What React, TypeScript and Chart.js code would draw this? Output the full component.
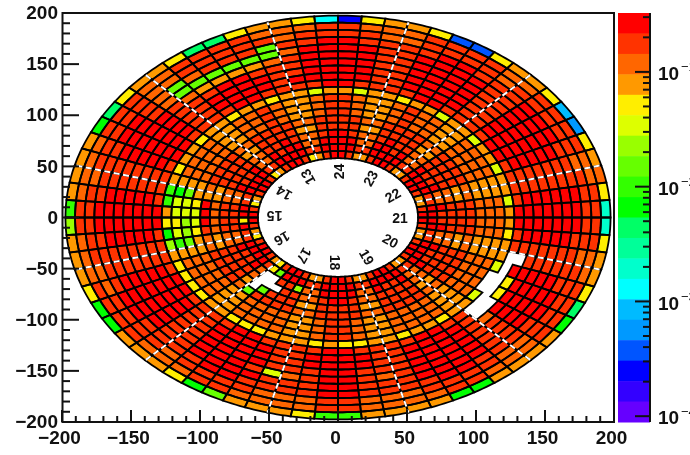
import React, { useEffect, useRef } from "react";
import { Chart, registerables } from "chart.js";

Chart.register(...registerables);

// Colour band read for each cell: 0 = top band (red) ... j = bottom band (violet), "." = empty cell.
// One string per ring (outermost first), 72 bins of 5 degrees counter-clockwise from +x, grouped by six.
const ring00 = "c4234f e4334g g4334h d4334a a4334a 933338 633349 933349 733348 833339 933339 a4334c";
const ring01 = "112211 112211 112221 122211 112211 122221 122211 112221 122221 122221 122211 112211";
const ring02 = "111211 111211 112211 112111 112211 111211 111221 111211 112221 122211 112211 111211";
const ring03 = "001110 001110 011110 011711 127210 011110 011110 011110 011110 011110 011110 011110";
const ring04 = "001100 001100 001100 002777 777210 001100 001100 001100 001110 011100 001100 001100";
const ring05 = "001100 001100 001100 001233 332100 001100 001100 001100 015210 012100 001100 001100";
const ring06 = "001100 001100 001100 001110 011100 001100 001100 001100 001110 011100 001100 001100";
const ring07 = "001100 001100 001100 001100 001100 001100 001100 001100 001100 001100 001200 001100";
const ring08 = "001100 001100 001100 000100 001100 001100 001100 001100 001100 001100 001..4 40.100";
const ring09 = "011110 011110 011110 011110 011110 011110 011110 011110 011110 011110 011... ...110";
const ring10 = "353353 353353 343353 353343 343343 343883 496344 443344 433343 443343 34335. .53343";
const ring11 = "223322 223322 123321 123321 223322 223955 458322 223322 223321 123322 223322 223322";
const ring12 = "223322 223322 123321 123321 223322 223755 667322 223322 223321 123322 223322 223322";
const ring13 = "223322 223322 123321 123321 223322 223345 543322 223322 223321 123322 223322 223322";
const ring14 = "112211 112211 112211 112211 112211 112300 012211 112711 112211 112211 112211 112211";
const ring15 = "113311 113311 113311 113311 113311 113322 223311 113.71 113311 113311 113311 113311";
const ring16 = "112211 112211 012210 012210 112211 112211 112211 112... 112210 012211 112211 112211";
const ring17 = "102201 102201 002200 002200 102201 102211 112201 102..1 162200 002201 102201 102201";
const ring18 = "001100 001100 001100 001100 001100 001100 401100 001470 001100 001100 001100 001100";
const ring19 = "013310 013310 013310 013410 013410 013410 013410 013410 013310 013310 013310 013310";

const rings = [ring00, ring01, ring02, ring03, ring04, ring05, ring06, ring07, ring08, ring09,
  ring10, ring11, ring12, ring13, ring14, ring15, ring16, ring17, ring18, ring19];

const bandColors = ["#ff0000", "#ff3300", "#ff6600", "#ff9900", "#ffee00", "#ddff00", "#99ff00", "#66ff00",
  "#33ff00", "#00ff00", "#00ff66", "#00ff99", "#00ffcc", "#00ffff", "#00bbff", "#0099ff", "#0055ff",
  "#0000ff", "#3300ff", "#6600ff"];
const bandCodes = "0123456789abcdefghij";

const sectorLabels = ["21", "22", "23", "24", "13", "14", "15", "16", "17", "18", "19", "20"];
const sectorAngles = [0, 30, 60, 90, 120, 150, 180, 210, 240, 270, 300, 330];
const dashAngles = [15, 45, 75, 105, 135, 165, 195, 225, 255, 285, 315, 345];

const R_OUT = 197.5;
const R_IN = 58;
const BIN_DEG = 5;
const Z_MIN = 8.9e-5;
const Z_MAX = 0.326;
const zDecades = [1e-4, 1e-3, 1e-2, 1e-1];
const zMinorFactors = [2, 3, 4, 5, 6, 7, 8, 9];

const axisMajors = [-200, -150, -100, -50, 0, 50, 100, 150, 200];
const axisMinors = [-190, -180, -170, -160, -140, -130, -120, -110, -90, -80, -70, -60, -40, -30, -20, -10,
  10, 20, 30, 40, 60, 70, 80, 90, 110, 120, 130, 140, 160, 170, 180, 190];

const rad = (d: number) => (d * Math.PI) / 180;
const numBands = bandColors.length;
const bandValue = (b: number) => Z_MAX * Math.pow(Z_MIN / Z_MAX, (b + 0.5) / numBands);
const valueBand = (v: number) =>
  Math.min(numBands - 1, Math.floor((Math.log(Z_MAX / v) / Math.log(Z_MAX / Z_MIN)) * numBands));

type Cell = { x: number; y: number; v: number; ring: number; bin: number };
const dr = (R_OUT - R_IN) / rings.length;
const cells: Cell[] = [];
rings.forEach((s, ring) => {
  s.replace(/ /g, "").split("").forEach((c, bin) => {
    if (c === ".") return;
    const r = R_OUT - dr * (ring + 0.5);
    const a = rad((bin + 0.5) * BIN_DEG);
    cells.push({ x: r * Math.cos(a), y: r * Math.sin(a), v: bandValue(bandCodes.indexOf(c)), ring, bin });
  });
});

const noPad = (s: any) => { s.paddingTop = 0; s.paddingBottom = 0; s.paddingLeft = 0; s.paddingRight = 0; };

const polarPlugin = {
  id: "polarCells",
  beforeDatasetsDraw(chart: any) {
    const { ctx, scales } = chart;
    const sx = scales.x, sy = scales.y, sz = scales.z;
    const px = (r: number, d: number) => sx.getPixelForValue(r * Math.cos(rad(d)));
    const py = (r: number, d: number) => sy.getPixelForValue(r * Math.sin(rad(d)));
    ctx.save();
    // cells
    const cellPath = (c: Cell) => {
      const r1 = R_OUT - dr * c.ring, r0 = r1 - dr;
      const a0 = c.bin * BIN_DEG, a1 = a0 + BIN_DEG;
      ctx.beginPath();
      for (let i = 0; i <= 5; i++) {
        const a = a0 + ((a1 - a0) * i) / 5;
        if (i === 0) ctx.moveTo(px(r1, a), py(r1, a));
        else ctx.lineTo(px(r1, a), py(r1, a));
      }
      for (let i = 5; i >= 0; i--) {
        const a = a0 + ((a1 - a0) * i) / 5;
        ctx.lineTo(px(r0, a), py(r0, a));
      }
      ctx.closePath();
    };
    cells.forEach((c) => {
      cellPath(c);
      ctx.fillStyle = bandColors[valueBand(c.v)];
      ctx.fill();
    });
    ctx.strokeStyle = "#000";
    ctx.lineWidth = 1.8;
    ctx.lineJoin = "miter";
    cells.forEach((c) => {
      cellPath(c);
      ctx.stroke();
    });
    // dashed sector boundaries
    ctx.strokeStyle = "#fff";
    ctx.lineWidth = 2;
    ctx.setLineDash([6, 3.5]);
    dashAngles.forEach((d) => {
      ctx.beginPath();
      ctx.moveTo(px(R_IN + 1, d), py(R_IN + 1, d));
      ctx.lineTo(px(R_OUT, d), py(R_OUT, d));
      ctx.stroke();
    });
    ctx.setLineDash([]);
    // sector numbers
    ctx.fillStyle = "#111";
    ctx.font = 'bold 14px "Liberation Sans"';
    ctx.textAlign = "center";
    ctx.textBaseline = "middle";
    sectorLabels.forEach((t, i) => {
      const d = sectorAngles[i];
      const x = sx.getPixelForValue(-0.5 + 45.5 * Math.cos(rad(d - 3)));
      const y = sy.getPixelForValue(0.5 + 44.5 * Math.sin(rad(d - 3)));
      ctx.save();
      ctx.translate(x, y);
      ctx.rotate(-rad(d));
      ctx.fillText(t, 0, 0);
      ctx.restore();
    });
    // colour bar
    const barL = sz.left + 4, barR = sz.left + 36;
    bandColors.forEach((col, b) => {
      const top = sz.getPixelForValue(Z_MAX * Math.pow(Z_MIN / Z_MAX, b / numBands));
      const bot = sz.getPixelForValue(Z_MAX * Math.pow(Z_MIN / Z_MAX, (b + 1) / numBands));
      ctx.fillStyle = col;
      ctx.fillRect(barL, top, barR - barL, bot - top + 0.5);
    });
    ctx.restore();
  },
  afterDraw(chart: any) {
    const { ctx, scales, chartArea: ca } = chart;
    const sx = scales.x, sy = scales.y, sz = scales.z;
    ctx.save();
    // frame
    ctx.strokeStyle = "#111";
    ctx.lineWidth = 2;
    ctx.strokeRect(ca.left + 0.5, ca.top, ca.right - ca.left - 0.5, ca.bottom - ca.top);
    // inward ticks
    const tickX = (v: number, len: number) => {
      const x = sx.getPixelForValue(v);
      ctx.beginPath(); ctx.moveTo(x, ca.bottom); ctx.lineTo(x, ca.bottom - len); ctx.stroke();
    };
    const tickY = (v: number, len: number) => {
      const y = sy.getPixelForValue(v);
      ctx.beginPath(); ctx.moveTo(ca.left, y); ctx.lineTo(ca.left + len, y); ctx.stroke();
    };
    ctx.lineWidth = 2;
    axisMajors.forEach((v) => { tickX(v, 12); tickY(v, 17); });
    axisMinors.forEach((v) => { tickX(v, 6); tickY(v, 8); });
    // colour-bar axis
    const zx = sz.left + 36;
    ctx.beginPath(); ctx.moveTo(zx, sz.top); ctx.lineTo(zx, sz.bottom); ctx.stroke();
    const tickZ = (v: number, len: number) => {
      if (v < Z_MIN || v > Z_MAX) return;
      const y = sz.getPixelForValue(v);
      ctx.beginPath(); ctx.moveTo(zx, y); ctx.lineTo(zx - len, y); ctx.stroke();
    };
    zDecades.forEach((d) => {
      tickZ(d, 15);
      zMinorFactors.forEach((f) => tickZ(d * f, 7));
    });
    // clipped superscript exponents
    ctx.fillStyle = "#111";
    ctx.font = '13px "Liberation Sans"';
    ctx.textAlign = "left";
    ctx.textBaseline = "middle";
    zDecades.forEach((d) => {
      ctx.fillText("\u2212" + Math.round(-Math.log10(d)), sz.left + 67, sz.getPixelForValue(d) - 4);
    });
    ctx.restore();
  },
};

export default function App() {
  const ref = useRef<HTMLCanvasElement>(null);
  useEffect(() => {
    const font = { family: '"Liberation Sans"', size: 19, weight: "bold" as const };
    const minusLabel = (v: any) => String(v).replace("-", "\u2212");
    const chart = new Chart(ref.current!, {
      type: "scatter",
      data: {
        datasets: [{
          label: "cells",
          data: cells.map((c) => ({ x: c.x, y: c.y })),
          pointRadius: 0,
          pointHoverRadius: 0,
          showLine: false,
        }],
      },
      options: {
        animation: false,
        responsive: false,
        layout: { padding: { top: 13, left: 0, right: 0, bottom: 0 }, autoPadding: false },
        plugins: { legend: { display: false }, tooltip: { enabled: false } },
        scales: {
          x: {
            type: "linear", min: -200, max: 200,
            grid: { display: false, drawTicks: false },
            border: { display: false },
            afterFit: (s: any) => { s.height = 33; noPad(s); },
            afterBuildTicks: (s: any) => { s.ticks = axisMajors.map((value) => ({ value })); },
            ticks: { autoSkip: false, maxRotation: 0, padding: 5, labelOffset: -2.5, color: "#111", font, callback: minusLabel },
          },
          y: {
            type: "linear", min: -200, max: 200, position: "left",
            grid: { display: false, drawTicks: false },
            border: { display: false },
            afterFit: (s: any) => { s.width = 62; noPad(s); },
            afterBuildTicks: (s: any) => { s.ticks = axisMajors.map((value) => ({ value })); },
            ticks: { autoSkip: false, padding: 4, labelOffset: 1, color: "#111", font, callback: minusLabel },
          },
          z: {
            type: "logarithmic", axis: "y", position: "right", min: Z_MIN, max: Z_MAX,
            grid: { display: false, drawTicks: false },
            border: { display: false },
            afterFit: (s: any) => { s.width = 76; noPad(s); },
            afterBuildTicks: (s: any) => { s.ticks = zDecades.map((value) => ({ value })); },
            ticks: { autoSkip: false, padding: 44, labelOffset: 3, color: "#111", font, callback: () => "10" },
          },
        } as any,
      },
      plugins: [polarPlugin],
    });
    return () => chart.destroy();
  }, []);
  return (
    <canvas ref={ref} width={690} height={455}
      style={{ position: "absolute", left: 0, top: 0, width: 690, height: 455 }} />
  );
}
